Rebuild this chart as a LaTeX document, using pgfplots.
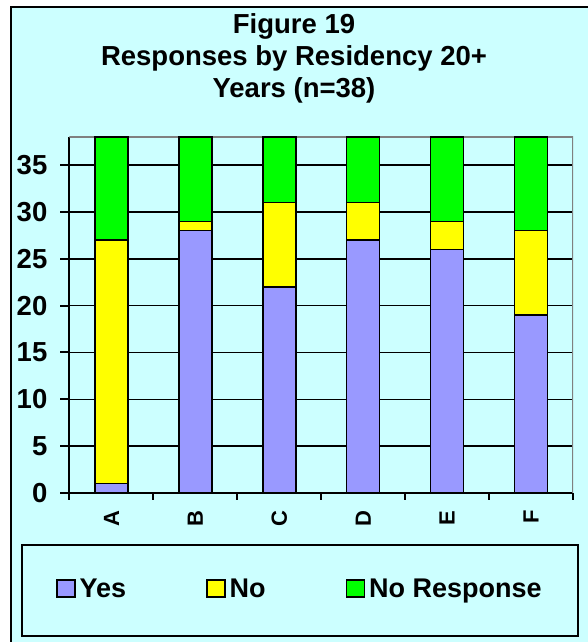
\documentclass[border=0pt]{standalone}
\usepackage{fontspec}
\setmainfont{Liberation Sans}
\usepackage{pgfplots}
\usepackage{pgfplotstable}
\pgfplotsset{compat=1.18}
\definecolor{bgc}{HTML}{CCFFFF}
\definecolor{yesc}{HTML}{9999FF}
\definecolor{noc}{HTML}{FFFF00}
\definecolor{nrc}{HTML}{00FF00}
\pgfplotstableread{
x yes no nr
0 1 26 11
1 28 1 9
2 22 9 7
3 27 4 7
4 26 3 9
5 19 9 10
}\datatable
\begin{document}
\begin{tikzpicture}[x=1pt,y=1pt]
\useasboundingbox (0,0) rectangle (588,642);
\fill[bgc] (11,0) rectangle (588,635);
\draw[line width=2pt] (11,0) -- (11,635) -- (588,635);
\node[font=\bfseries\fontsize{27.5}{30}\selectfont, anchor=base] at (294,608) {Figure 19};
\node[font=\bfseries\fontsize{27.5}{30}\selectfont, anchor=base] at (294,576) {Responses by Residency 20+};
\node[font=\bfseries\fontsize{27.5}{30}\selectfont, anchor=base] at (294,544) {Years (n=38)};
\draw[line width=2pt, fill=bgc] (22,6) rectangle (578,97);
\begin{axis}[
  scale only axis, width=503.5pt, height=356pt,
  at={(69.5pt,149pt)}, anchor=south west,
  xmin=-0.5, xmax=5.5, ymin=0, ymax=38,
  ybar stacked, bar width=33pt,
  axis x line*=bottom, axis y line*=left,
  axis line style={line width=2pt, -},
  tick align=outside,
  ytick={0,5,...,35},
  xtick={0,...,5}, xticklabels={A,B,C,D,E,F},
  minor xtick={-0.5,0.5,...,5.5},
  major tick length=9pt, minor tick length=7pt,
  major x tick style={draw=none},
  minor x tick style={black, line width=2pt},
  major y tick style={black, line width=2pt},
  ymajorgrids, major grid style={black, line width=1.5pt},
  /pgf/number format/assume math mode=true,
  yticklabel style={font=\bfseries\fontsize{27.5}{30}\selectfont, inner xsep=1pt},
  yticklabel shift=12pt,
  xticklabel style={font=\bfseries\fontsize{22}{26}\selectfont, rotate=90, anchor=east},
  xticklabel shift=5pt,
  legend style={draw=none, fill=none, at={(0.4595,-0.27)}, anchor=center,
    font=\bfseries\fontsize{27}{30}\selectfont,
    nodes={inner xsep=4pt},
    /tikz/every even column/.append style={column sep=76pt}},
  legend columns=3,
  legend image code/.code={\draw[#1,line width=1.5pt] (0pt,-8pt) rectangle (18pt,9pt);},
]
\addplot[fill=yesc, draw=black, line width=1.5pt] table[x=x,y=yes]{\datatable};
\addplot[fill=noc, draw=black, line width=1.5pt] table[x=x,y=no]{\datatable};
\addplot[fill=nrc, draw=black, line width=1.5pt] table[x=x,y=nr]{\datatable};
\legend{Yes,No,No Response}
\draw[gray, line width=1.5pt] (rel axis cs:0,1) -- (rel axis cs:1,1) -- (rel axis cs:1,0);
\end{axis}
\end{tikzpicture}
\end{document}
